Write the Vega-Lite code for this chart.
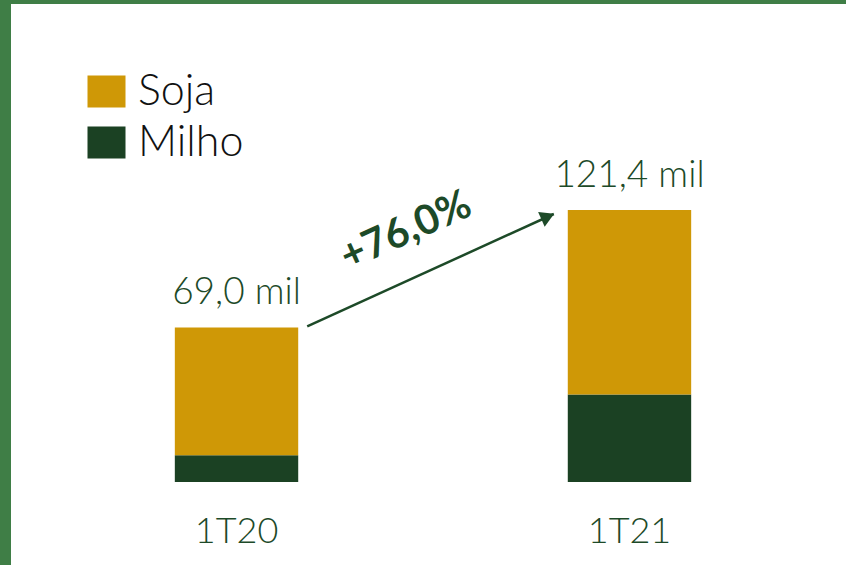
{
  "$schema": "https://vega.github.io/schema/vega-lite/v6.json",
  "width": 846,
  "height": 565,
  "autosize": {"type": "fit", "contains": "padding"},
  "padding": {"left": 11, "top": 4, "right": 0, "bottom": 0},
  "background": "#3f7e46",
  "config": {
    "view": {"fill": "white", "stroke": null},
    "font": "Lato"
  },
  "datasets": {
    "volumes": [
      {"periodo": "1T20", "cultura": "Milho", "valor": 11.9},
      {"periodo": "1T20", "cultura": "Soja", "valor": 57.1},
      {"periodo": "1T21", "cultura": "Milho", "valor": 39.1},
      {"periodo": "1T21", "cultura": "Soja", "valor": 82.3}
    ],
    "totais": [
      {"periodo": "1T20", "total": 69.0, "rotulo": "69,0 mil"},
      {"periodo": "1T21", "total": 121.4, "rotulo": "121,4 mil"}
    ],
    "variacao": [
      {"de": "1T20", "para": "1T21", "v_de": 69.0, "v_para": 121.4, "rotulo": "+76,0%"}
    ]
  },
  "encoding": {
    "x": {
      "field": "periodo",
      "type": "nominal",
      "axis": null,
      "scale": {"domain": ["1T20", "1T21"], "range": [9, 835], "paddingInner": 0.686, "paddingOuter": 0.394}
    }
  },
  "layer": [
    {
      "data": {"name": "volumes"},
      "mark": {"type": "bar"},
      "encoding": {
        "y": {
          "field": "valor",
          "type": "quantitative",
          "aggregate": "sum",
          "stack": "zero",
          "axis": null,
          "scale": {"domain": [-37.05, 213.35], "nice": false, "zero": false}
        },
        "color": {
          "field": "cultura",
          "type": "nominal",
          "scale": {"domain": ["Soja", "Milho"], "range": ["#cf9806", "#1b4123"]},
          "legend": {
            "title": null,
            "orient": "none",
            "legendX": 74,
            "legendY": 66,
            "symbolType": "M-1.1875,-1L1.1875,-1L1.1875,1L-1.1875,1Z",
            "symbolSize": 1024,
            "symbolStrokeWidth": 0,
            "labelFontSize": 43,
            "labelFont": "Lato",
            "labelFontWeight": 300,
            "labelColor": "#111111",
            "labelOffset": 10,
            "rowPadding": 7,
            "padding": 0
          }
        },
        "order": {"field": "cultura", "sort": "ascending"}
      }
    },
    {
      "data": {"name": "totais"},
      "mark": {"type": "text", "fontSize": 37, "fontWeight": 300, "color": "#1d4a28", "baseline": "alphabetic", "dy": -23, "align": "center"},
      "encoding": {
        "y": {"field": "total", "type": "quantitative"},
        "text": {"field": "rotulo"}
      }
    },
    {
      "data": {"name": "totais"},
      "mark": {"type": "text", "fontSize": 36, "fontWeight": 300, "color": "#1d4a28", "baseline": "alphabetic", "dy": 61, "align": "center"},
      "encoding": {
        "y": {"datum": 0},
        "text": {"field": "periodo"}
      }
    },
    {
      "data": {"name": "variacao"},
      "mark": {"type": "rule", "color": "#1d4a28", "strokeWidth": 2.5, "xOffset": 9, "x2Offset": -14, "yOffset": -1, "y2Offset": 4},
      "encoding": {
        "x": {"field": "de", "type": "nominal", "bandPosition": 1},
        "x2": {"field": "para", "bandPosition": 0},
        "y": {"field": "v_de", "type": "quantitative"},
        "y2": {"field": "v_para"}
      }
    },
    {
      "data": {"name": "variacao"},
      "mark": {"type": "point", "shape": "triangle-up", "filled": true, "color": "#1d4a28", "opacity": 1, "size": 260, "angle": 66, "xOffset": -20, "yOffset": 6.5},
      "encoding": {
        "x": {"field": "para", "type": "nominal", "bandPosition": 0},
        "y": {"field": "v_para", "type": "quantitative"}
      }
    },
    {
      "data": {"name": "variacao"},
      "mark": {"type": "text", "fontSize": 41, "fontWeight": "bold", "color": "#1d4a28", "angle": 336, "align": "center", "baseline": "middle", "xOffset": 108, "yOffset": -96},
      "encoding": {
        "x": {"field": "de", "type": "nominal", "bandPosition": 1},
        "y": {"field": "v_de", "type": "quantitative"},
        "text": {"field": "rotulo"}
      }
    }
  ]
}
